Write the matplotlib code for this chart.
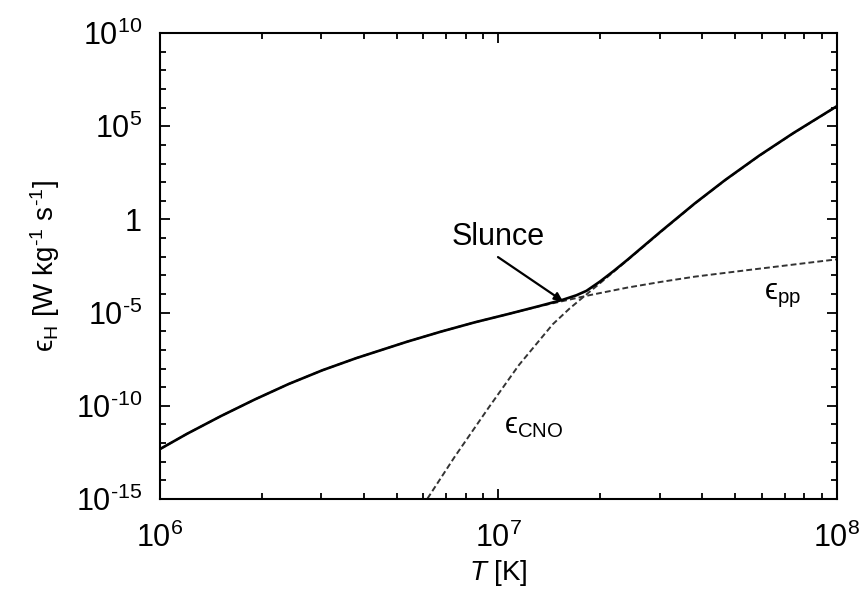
import numpy as np
import matplotlib.pyplot as plt
from matplotlib.ticker import FixedLocator, LogLocator, NullFormatter

"""
Energy generation rate of hydrogen burning (pp chain and CNO cycle) vs. temperature.
"""

# values, log10(T / K) and log10(eps / W kg^-1 s^-1)
logT_pp = [6.00, 6.08, 6.18, 6.28, 6.38, 6.48, 6.58, 6.73, 6.83, 6.93, 7.03, 7.12,
           7.19, 7.27, 7.38, 7.48, 7.58, 7.74, 8.00]
logeps_pp = [-12.32, -11.50, -10.55, -9.66, -8.83, -8.09, -7.44, -6.56, -6.02, -5.52, -5.07, -4.66,
             -4.38, -4.06, -3.66, -3.35, -3.07, -2.71, -2.14]

logT_cno = [6.79, 6.87, 6.97, 7.06, 7.16, 7.21, 7.26, 7.30, 7.38, 7.48, 7.58,
            7.67, 7.77, 7.87, 8.00]
logeps_cno = [-14.98, -12.75, -10.12, -7.82, -5.63, -4.78, -4.02, -3.42, -2.20, -0.66, 0.85,
              2.11, 3.41, 4.61, 6.07]

logT_total = [6.00, 6.08, 6.18, 6.28, 6.38, 6.48, 6.58, 6.73, 6.83, 6.93, 7.03, 7.12,
              7.19, 7.23, 7.26, 7.30, 7.34, 7.38, 7.48, 7.58, 7.67, 7.77, 7.87, 8.00]
logeps_total = [-12.32, -11.50, -10.55, -9.66, -8.83, -8.09, -7.44, -6.56, -6.02, -5.52, -5.07, -4.65,
                -4.31, -4.07, -3.83, -3.33, -2.77, -2.18, -0.64, 0.86, 2.12, 3.42, 4.62, 6.08]

x_ticks = [1e6, 1e7, 1e8]
x_tick_labels = [r"$10^{6}$", r"$10^{7}$", r"$10^{8}$"]
y_ticks = [1e-15, 1e-10, 1e-5, 1, 1e5, 1e10]
y_tick_labels = [r"$10^{\text{-}15}$", r"$10^{\text{-}10}$", r"$10^{\text{-}5}$", r"$1$",
                 r"$10^{5}$", r"$10^{10}$"]

plt.rcParams["font.family"] = ["Liberation Sans", "DejaVu Sans"]
plt.rcParams["mathtext.fontset"] = "custom"
plt.rcParams["mathtext.rm"] = "Liberation Sans"
plt.rcParams["mathtext.it"] = "Liberation Sans:italic"
plt.rcParams["mathtext.bf"] = "Liberation Sans:bold"

fig = plt.figure(figsize=(8.62, 5.94), dpi=100)
ax = fig.add_axes([0.1856, 0.1599, 0.7854, 0.7845])

T_pp = 10 ** np.array(logT_pp)
T_cno = 10 ** np.array(logT_cno)
T_tot = 10 ** np.array(logT_total)

ax.plot(T_pp, 10 ** np.array(logeps_pp), color="#333333", lw=1.4, dashes=(3, 1.6))
ax.plot(T_cno, 10 ** np.array(logeps_cno), color="#333333", lw=1.4, dashes=(3, 1.6))
ax.plot(T_tot, 10 ** np.array(logeps_total), color="black", lw=1.9)

ax.set_xscale("log")
ax.set_yscale("log")
ax.set_xlim(1e6, 1e8)
ax.set_ylim(1e-15, 1e10)

ax.xaxis.set_major_locator(FixedLocator(x_ticks))
ax.set_xticklabels(x_tick_labels)
ax.xaxis.set_minor_locator(LogLocator(base=10, subs=np.arange(2, 10), numticks=20))
ax.xaxis.set_minor_formatter(NullFormatter())

ax.yaxis.set_major_locator(FixedLocator(y_ticks))
ax.set_yticklabels(y_tick_labels)
ax.yaxis.set_minor_locator(LogLocator(base=10, subs=[1.0], numticks=40))
ax.yaxis.set_minor_formatter(NullFormatter())

ax.tick_params(which="both", direction="in", top=True, right=True, width=1.3, labelsize=22)
ax.tick_params(which="major", length=7)
ax.tick_params(which="minor", length=4)
ax.tick_params(axis="y", pad=13)
ax.tick_params(axis="x", pad=17)
for sp in ax.spines.values():
    sp.set_linewidth(1.5)

ax.set_xlabel(r"$T$ [K]", fontsize=20, labelpad=3)
ax.set_ylabel("\u03f5$_{\\rm H}$ [W kg$^{\\text{-}1}$ s$^{\\text{-}1}$]", fontsize=20, labelpad=10)

ax.text(10 ** 6.9985, 10 ** -0.94, "Slunce", fontsize=22, ha="center", va="center")
ax.annotate("", xy=(10 ** 7.19, 10 ** -4.38), xytext=(10 ** 6.9985, 10 ** -2.02),
            arrowprops=dict(arrowstyle="-|>", color="black", lw=1.6,
                            mutation_scale=12, shrinkA=0, shrinkB=0))
ax.text(10 ** 7.105, 10 ** -11.1, "\u03f5$_{\\rm CNO}$", fontsize=21, ha="center", va="center")
ax.text(10 ** 7.84, 10 ** -4.1, "\u03f5$_{\\rm pp}$", fontsize=21, ha="center", va="center")

fig.savefig("out.png", dpi=100)
